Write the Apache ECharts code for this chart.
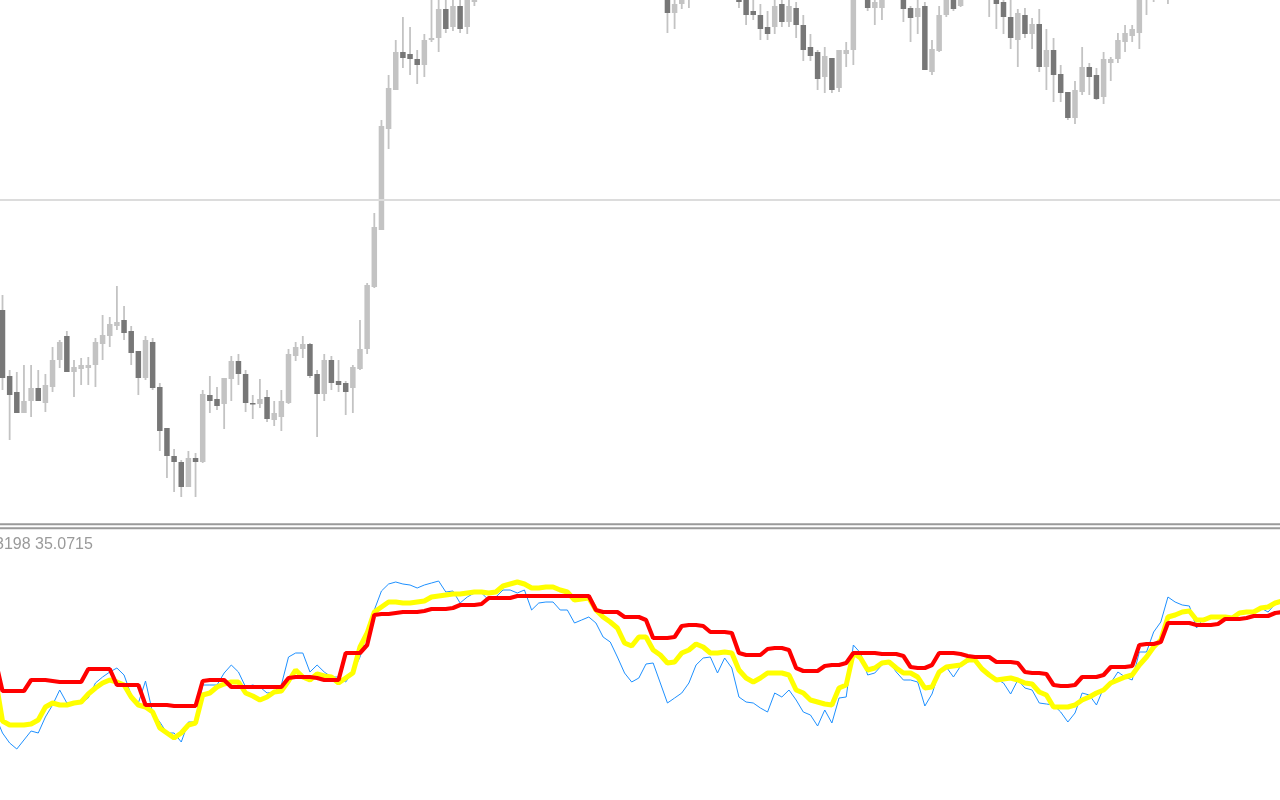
<!DOCTYPE html>
<html>
<head>
<meta charset="utf-8">
<script src="https://cdn.jsdelivr.net/npm/echarts@6/dist/echarts.min.js"></script>
<style>
html,body{margin:0;padding:0;background:#ffffff;}
#chart{width:1280px;height:800px;}
</style>
</head>
<body>
<div id="chart"></div>
<script>
// ---- Price panel (candles) ----
// first bar sits just off the left edge
const openP = [
712,
690,624,608,587,599,612,597,613,640,664,
628,631,632,635,656,664,674,680,669,649,
622,658,613,572,544,538,513,542,538,605,
601,596,621,639,626,597,596,603,580,583,
597,644,651,656,626,606,640,619,617,612,
631,651,713,770,871,910,948,946,941,935,
960,962,991,973,994,973,998,1003,1012,1008,
1016,1028,1034,1030,1038,1026,1030,1033,1029,1021,
1024,1013,1017,1019,1012,1008,1010,1004,1006,1003,
1009,1018,1014,1005,987,996,1006,1010,1018,1022,
1020,1012,1017,1003,1002,989,985,973,973,996,
978,992,975,953,948,923,942,912,946,950,
1005,1003,992,992,1003,1007,1003,992,983,994,
928,949,985,1003,994,1003,1008,1011,1006,1003,
998,983,960,985,966,976,933,950,926,908,
882,908,933,925,903,937,941,958,964,967,
1004,1012,1009,1016,1024,1021,1019,1018,1010,1015,
1017,1016,1018,1017,1021,1022,1024,1027,1025,1031
];
const closeP = [
692,
622,605,587,599,612,599,615,640,658,628,
633,635,635,658,665,676,678,667,647,622,
660,612,569,544,538,513,542,538,606,599,
594,622,639,626,597,596,601,581,587,599,
646,653,656,624,606,640,617,615,608,633,
651,715,773,874,912,948,942,941,935,960,
962,991,971,994,971,1005,1003,1012,1008,1016,
1028,1034,1030,1038,1026,1030,1033,1029,1021,1024,
1013,1017,1019,1012,1008,1010,1004,1006,1003,1009,
1018,1014,1010,987,996,1003,1010,1018,1022,1020,
1012,1017,1006,998,985,985,971,966,994,978,
994,975,950,944,921,944,910,950,950,1005,
1010,992,998,1003,1007,1004,991,982,992,930,
951,985,1003,991,1003,1008,1011,1006,1003,996,
983,962,987,966,976,933,950,925,907,882,
910,933,923,901,941,941,960,967,971,1003,
1012,1009,1016,1024,1021,1019,1018,1010,1015,1017,
1016,1018,1017,1021,1022,1024,1027,1025,1031,1033
];
const lowP = [
686,
610,560,587,587,583,599,588,608,632,628,
603,615,615,613,640,653,670,660,635,605,
620,610,549,522,508,503,513,503,537,587,
590,571,599,615,588,581,592,578,574,569,
596,639,642,622,563,599,610,608,585,587,
630,646,712,770,851,910,932,925,916,923,
958,948,967,969,967,966,994,1003,1004,1004,
1012,1022,1024,1027,1020,1021,1025,1023,1016,1015,
1009,1008,1011,1007,1004,1003,1002,1002,1002,1002,
1006,1008,1004,967,971,991,992,1006,1013,1015,
1008,1009,1003,992,975,980,960,960,966,973,
973,962,939,939,910,907,907,908,933,935,
1002,989,975,980,1002,1002,978,958,966,930,
925,948,983,989,993,1002,1004,1003,983,971,
966,951,933,962,951,928,910,898,898,880,
876,905,905,900,896,919,937,948,958,951,
985,998,1003,996,1010,1012,1011,1006,1007,1009,
1010,1011,1012,1013,1015,1017,1019,1020,1021,1024
];
const highP = [
718,
705,630,628,635,635,630,626,653,660,669,
640,642,643,662,685,683,714,694,674,649,
664,662,617,572,551,540,549,547,610,624,
613,622,644,646,630,605,621,610,599,610,
651,658,664,657,630,646,644,640,619,635,
680,717,787,880,925,960,983,973,950,966,
1008,1006,1004,1005,1008,1010,1012,1018,1020,1022,
1033,1040,1041,1045,1042,1036,1039,1038,1034,1030,
1028,1023,1025,1023,1018,1016,1014,1012,1011,1014,
1022,1021,1019,1012,1004,1008,1014,1022,1027,1026,
1024,1021,1019,1008,1007,1004,996,989,1003,1004,
1005,998,985,966,950,953,942,950,958,1012,
1016,1008,1004,1009,1012,1011,1008,994,1002,998,
960,994,1008,1007,1008,1013,1015,1014,1010,1007,
1004,1002,991,992,982,991,971,962,935,908,
919,953,937,932,948,943,967,975,975,1010,
1016,1019,1021,1028,1030,1026,1025,1022,1019,1022,
1021,1023,1024,1025,1027,1029,1031,1032,1035,1038
];
const levelPrice = 800;

// ---- Indicator panel ----
const blueLine = [
84,
67,57,51,60,69,67,83,95,110,97,
98,97,102,117,123,128,132,125,105,97,
119,87,78,67,67,58,78,78,115,115,
115,127,135,128,113,115,113,107,108,115,
143,147,147,128,135,128,123,123,118,128,
143,168,190,209,216,218,216,215,212,215,
217,219,208,209,197,203,207,207,200,203,
210,210,207,210,190,197,198,198,190,190,
177,180,183,177,163,158,143,127,118,122,
136,137,117,97,102,107,117,135,142,143,
127,142,132,103,98,97,92,88,107,103,
110,100,88,85,74,90,77,102,103,155,
147,125,127,135,138,128,120,120,118,94,
106,128,133,123,134,138,140,132,125,121,
117,106,120,112,110,97,96,95,88,78,
87,107,105,95,112,117,128,123,120,148,
148,168,178,203,198,195,194,172,182,183,
183,183,183,187,187,188,192,188,196,198
];
const yellowLine = [
122,
79,75,75,75,76,80,93,97,95,95,
97,98,106,112,117,120,118,115,103,95,
93,88,72,67,62,67,75,77,105,107,
113,116,118,118,107,104,100,103,108,109,
119,130,123,120,126,124,123,117,122,127,
153,167,188,193,198,198,197,197,198,199,
203,204,205,206,206,207,208,208,207,208,
214,216,218,216,212,212,213,213,210,208,
200,201,202,190,183,178,172,157,154,163,
163,150,145,137,138,147,150,156,153,147,
147,148,147,130,122,118,122,127,127,127,
125,110,107,100,98,96,95,112,115,147,
142,130,132,137,138,132,127,127,123,112,
113,128,133,134,135,140,140,131,125,120,
121,122,120,117,116,108,105,93,93,93,
95,100,103,107,110,117,120,123,125,135,
143,153,160,183,185,188,189,180,180,183,
183,183,182,187,188,188,192,193,197,199
];
const redLine = [
140,
109,109,109,109,120,120,120,119,118,118,
118,118,131,131,131,131,115,115,115,115,
95,95,95,95,94,94,94,94,119,120,
120,120,113,113,113,113,113,113,113,113,
122,123,123,123,122,120,120,120,147,147,
147,155,185,186,186,187,188,188,188,189,
191,191,191,192,195,195,195,196,202,202,
202,202,204,204,204,204,204,204,204,204,
204,204,204,190,188,188,188,183,183,183,
180,162,162,162,163,174,175,175,174,168,
168,168,167,147,145,145,145,151,152,152,
150,132,129,129,129,134,135,135,137,147,
147,147,147,146,146,146,144,133,132,132,
135,147,147,147,146,144,143,143,143,138,
138,138,137,128,127,127,126,115,114,114,
115,123,123,123,125,133,133,133,134,155,
156,156,158,177,177,177,177,175,175,175,
176,181,181,181,182,184,184,184,187,188
];
const indicatorLabel = '3198 35.0715';

const categories = openP.map((_, i) => String(i + 1));
const candleData = openP.map((o, i) => [i, o, closeP[i], lowP[i], highP[i]]);

const BAR_STEP = 7.15;
const FIRST_VISIBLE_CENTER = 2.5;            // centre of the second bar in pixels
const gridLeft = FIRST_VISIBLE_CENTER - BAR_STEP - BAR_STEP / 2;
const gridWidth = BAR_STEP * categories.length;

const LIGHT = '#c3c3c3';
const DARK = '#777777';

function renderCandle(params, api) {
  const idx = api.value(0);
  const o = api.value(1), c = api.value(2), l = api.value(3), h = api.value(4);
  const pO = api.coord([idx, o]);
  const pC = api.coord([idx, c]);
  const pL = api.coord([idx, l]);
  const pH = api.coord([idx, h]);
  const x = pO[0];
  const bw = 5.5;
  const top = Math.min(pO[1], pC[1]);
  const bot = Math.max(pO[1], pC[1]);
  const bull = c >= o;
  return {
    type: 'group',
    children: [
      { type: 'rect', shape: { x: x - 0.9, y: pH[1], width: 1.8, height: pL[1] - pH[1] },
        style: { fill: LIGHT } },
      { type: 'rect', shape: { x: x - bw / 2, y: top, width: bw, height: Math.max(bot - top, 1.5) },
        style: { fill: bull ? LIGHT : DARK } }
    ]
  };
}

const chart = echarts.init(document.getElementById('chart'), null, { renderer: 'canvas' });
chart.setOption({
  animation: false,
  backgroundColor: '#ffffff',
  grid: [
    { left: gridLeft, width: gridWidth, top: 0, height: 523, containLabel: false, outerBoundsMode: 'none' },
    { left: gridLeft, width: gridWidth, top: 530, height: 270, containLabel: false, outerBoundsMode: 'none' }
  ],
  xAxis: [
    { type: 'category', gridIndex: 0, data: categories, boundaryGap: true, show: false },
    { type: 'category', gridIndex: 1, data: categories, boundaryGap: true, show: false }
  ],
  yAxis: [
    { type: 'value', gridIndex: 0, min: 477, max: 1000, show: false, splitLine: { show: false } },
    { type: 'value', gridIndex: 1, min: 0, max: 270, show: false, splitLine: { show: false } }
  ],
  series: [
    {
      type: 'line', xAxisIndex: 0, yAxisIndex: 0, data: [], silent: true, z: 1,
      markLine: {
        silent: true, symbol: 'none', animation: false,
        label: { show: false },
        lineStyle: { color: '#dcdcdc', width: 2, type: 'solid' },
        data: [{ yAxis: levelPrice }]
      }
    },
    {
      type: 'custom', xAxisIndex: 0, yAxisIndex: 0, data: candleData,
      renderItem: renderCandle, clip: true, z: 3,
      encode: { x: 0, y: [1, 2, 3, 4] }
    },
    {
      type: 'line', xAxisIndex: 1, yAxisIndex: 1, data: blueLine, showSymbol: false,
      lineStyle: { color: '#1e90ff', width: 1 }, z: 2
    },
    {
      type: 'line', xAxisIndex: 1, yAxisIndex: 1, data: yellowLine, showSymbol: false,
      lineStyle: { color: '#ffff00', width: 5 }, z: 3
    },
    {
      type: 'line', xAxisIndex: 1, yAxisIndex: 1, data: redLine, showSymbol: false,
      lineStyle: { color: '#ff0000', width: 4.2 }, z: 4
    }
  ],
  graphic: [
    { type: 'rect', shape: { x: 0, y: 523.3, width: 1280, height: 2 }, style: { fill: '#9a9a9a' }, silent: true },
    { type: 'rect', shape: { x: 0, y: 527.3, width: 1280, height: 2 }, style: { fill: '#9a9a9a' }, silent: true },
    { type: 'text', x: -5, y: 544.5, silent: true,
      style: { text: indicatorLabel, fill: '#9a9a9a', font: '16px "Liberation Sans", Arial, sans-serif',
               verticalAlign: 'middle', align: 'left' } }
  ]
});
</script>
</body>
</html>
